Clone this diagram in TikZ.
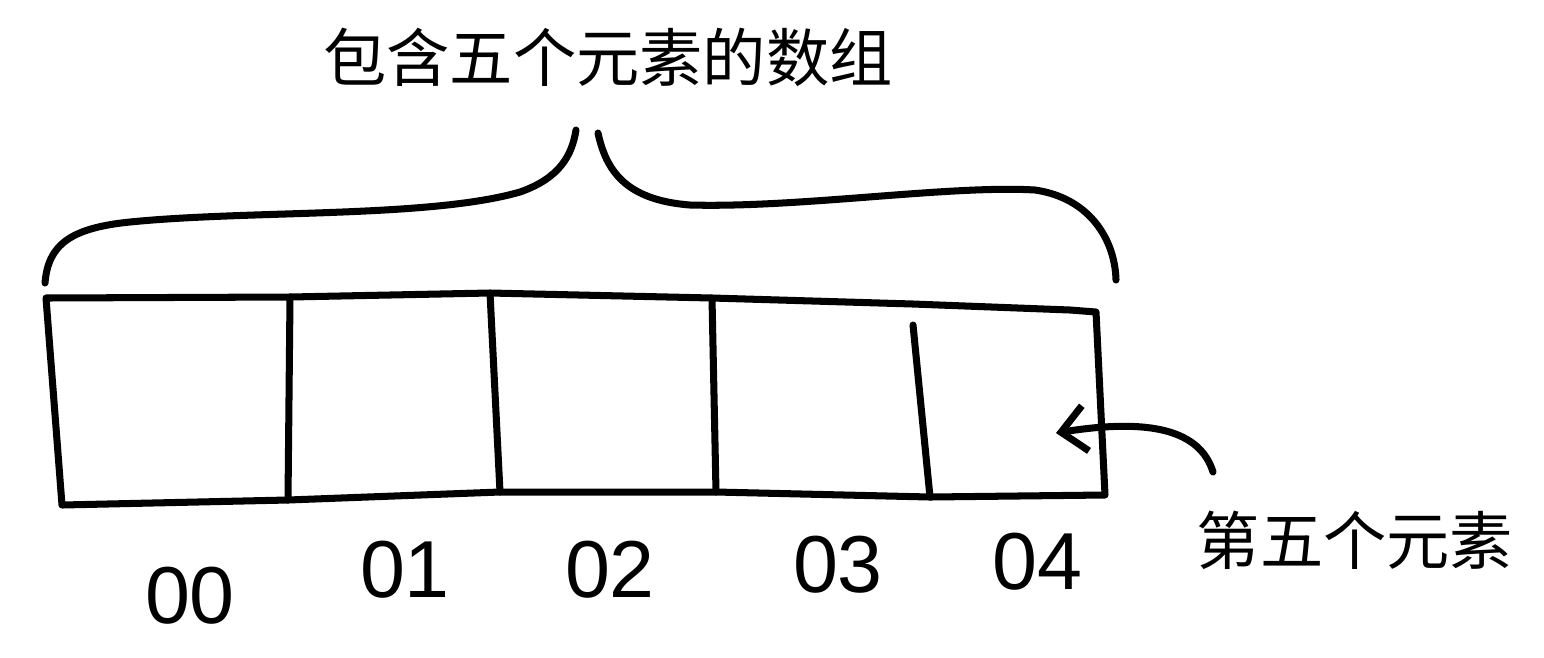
\documentclass[tikz,border=0pt]{standalone}
\usepackage{fontspec}
\setmainfont{Liberation Sans}
\newfontfamily\cjk{Noto Sans CJK SC}
\usetikzlibrary{arrows.meta}
\begin{document}
\begin{tikzpicture}[x=0.02cm,y=-0.02cm,
  ink/.style={line width=4pt, line cap=round, line join=round, black},
  cjklabel/.style={font=\cjk\fontsize{36}{36}\selectfont, inner sep=0pt},
  idx/.style={font=\fontsize{46}{46}\selectfont, inner sep=0pt}]
\useasboundingbox (0,0) rectangle (1544,657);
% corners
\coordinate (tl) at (46,298);
\coordinate (t1) at (290,297);
\coordinate (t2) at (490,293);
\coordinate (t3) at (712,298);
\coordinate (tr) at (1096,312);
\coordinate (bl) at (62,505);
\coordinate (b1) at (288,500);
\coordinate (b2) at (500,492);
\coordinate (b3) at (716,492);
\coordinate (b4) at (930,497);
\coordinate (br) at (1105,495);
\coordinate (d4) at (913,325);
% outline
\draw[ink] (tl) -- (t1) -- (t2) -- (t3) -- (913,304) -- (1070,310) -- (tr) -- (br) -- (b4) -- (b3) -- (b2) -- (b1) -- (bl) -- cycle;
\draw[ink] (t1) -- (b1);
\draw[ink] (t2) -- (b2);
\draw[ink] (t3) -- (b3);
\draw[ink] (d4) -- (b4);
% brace
\draw[ink] (45,283) .. controls (48,245) and (70,228) .. (130,222)
  .. controls (250,210) and (430,218) .. (520,192)
  .. controls (560,178) and (572,155) .. (576,130);
\draw[ink] (598,133) .. controls (606,170) and (625,200) .. (690,205)
  .. controls (800,208) and (950,185) .. (1035,190)
  .. controls (1090,198) and (1115,240) .. (1116,280);
% title
\node[cjklabel] (title) at (608,57) {包含五个元素的数组};
% indices
\node[idx] (i0) at (190,596) {00};
\node[idx] (i1) at (405,570) {01};
\node[idx] (i2) at (610,570) {02};
\node[idx] (i3) at (838,565) {03};
\node[idx] (i4) at (1037,562) {04};
% fifth element label and arrow
\node[cjklabel] (fifth) at (1355,540) {第五个元素};
\coordinate (astart) at (1213,472);
\coordinate (aend) at (1056,433);
\draw[ink, -{Straight Barb[length=14pt,width=26pt,line width=4pt]}] (astart) .. controls (1200,430) and (1150,418) .. (aend);
\end{tikzpicture}
\end{document}
